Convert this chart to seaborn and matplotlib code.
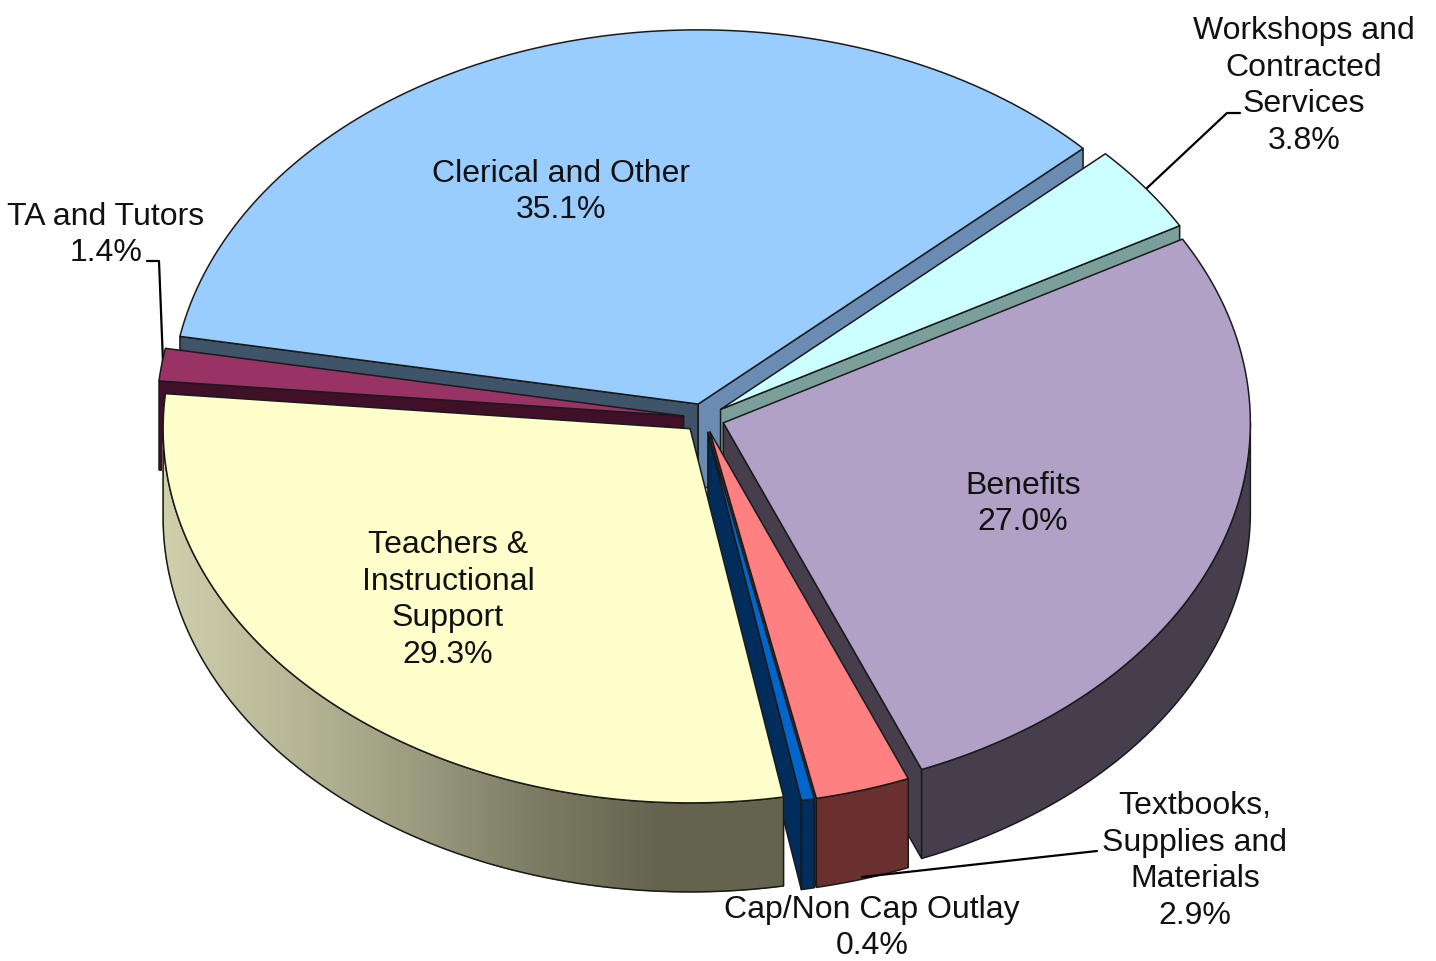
import numpy as np
import matplotlib.pyplot as plt
from matplotlib.patches import Polygon
import seaborn as sns

#chart data, clockwise from the Benefits slice
names = ['Benefits', 'Textbooks,\nSupplies and\nMaterials', 'Cap/Non Cap Outlay', 'Teachers &\nInstructional\nSupport',
         'TA and Tutors', 'Clerical and Other', 'Workshops and\nContracted\nServices']
values = [27.0, 2.9, 0.4, 29.3, 1.4, 35.1, 3.8]
top_colors = ['#b2a1c7', '#ff8080', '#0066cc', '#ffffcc', '#993366', '#99ccff', '#ccffff']
wall_colors = ['#463e4c', '#6a3030', '#002d5c', '#c8c8a2', '#3f1028', '#3f5468', '#7a9f9b']
label_x = [1023, 1195, 872, 448, 106, 561, 1304]
label_y = [504, 861, 928, 600, 235, 192, 86]

#painter's order, back of the pie first
draw_order = [5, 6, 0, 4, 1, 2, 3]

#pie geometry in pixels
center_x, center_y = 704, 418
radius = 527
squash = 0.71
depth = 89
explode = 20.5
start_angle = 29.4

sns.set_theme(style='white')
plt.rcParams['font.family'] = ['Liberation Sans', 'DejaVu Sans']

fig = plt.figure(figsize=(14.36, 9.61), dpi=100)
ax = fig.add_axes([0, 0, 1, 1])
ax.set_xlim(0, 1436)
ax.set_ylim(961, 0)
ax.axis('off')

#turn values into angles
sweep = np.array(values) / sum(values) * 360
ends = start_angle - np.cumsum(sweep)
starts = ends + sweep


def project(cx, cy, deg, drop=0):
    rad = np.radians(deg)
    return cx + radius * np.cos(rad), cy - radius * squash * np.sin(rad) + drop


def arc(cx, cy, a, b, drop=0, n=100):
    xs, ys = project(cx, cy, np.linspace(a, b, n), drop)
    return list(zip(xs, ys))


def face(points, color, z, edge='#1a1a1a'):
    ax.add_patch(Polygon(points, closed=True, facecolor=color, edgecolor=edge, linewidth=1.1,
                         joinstyle='round', zorder=z))


#walls for the teachers slice fade from light to dark going right
fade = sns.blend_palette(['#cfcfac', '#b8b898', '#9c9c80', '#7c7c64', '#64644e', '#64644e'], 400)

z = 2
for i in draw_order:
    a, b = starts[i], ends[i]
    mid = np.radians((a + b) / 2)
    cx = center_x + explode * np.cos(mid)
    cy = center_y - explode * squash * np.sin(mid)

    #side walls, only those facing the viewer
    end_wall = '#6a8cb2' if names[i] == 'Clerical and Other' else wall_colors[i]
    for edge_angle, normal, color in [(a, a + 90, wall_colors[i]), (b, b - 90, end_wall)]:
        if np.sin(np.radians(normal)) < 0:
            ex, ey = project(cx, cy, edge_angle)
            face([(cx, cy), (ex, ey), (ex, ey + depth), (cx, cy + depth)], color, z)
            z += 1

    #outer wall, front half of the ellipse only
    lo, hi = max(b, -180), min(a, 0)
    if lo < hi:
        outline = arc(cx, cy, hi, lo) + arc(cx, cy, lo, hi, depth)
        if names[i].startswith('Teachers'):
            cuts = np.linspace(lo, hi, 301)
            left = project(cx, cy, lo)[0]
            right = project(cx, cy, hi)[0]
            for c0, c1 in zip(cuts[:-1], cuts[1:]):
                t = (project(cx, cy, (c0 + c1) / 2)[0] - left) / (right - left)
                shade = fade[int(t * (len(fade) - 1))]
                strip = arc(cx, cy, c1, c0, n=3) + arc(cx, cy, c0, c1, depth, n=3)
                ax.add_patch(Polygon(strip, closed=True, facecolor=shade, edgecolor=shade,
                                     linewidth=0.8, zorder=z))
            z += 1
            face(outline, 'none', z)
        else:
            face(outline, wall_colors[i], z)
        z += 1

    #top of the slice
    face([(cx, cy)] + arc(cx, cy, a, b), top_colors[i], z)
    z += 1

#labels with their values
for name, val, x, y in zip(names, values, label_x, label_y):
    ax.text(x, y, f'{name}\n{val:.1f}%', ha='center', va='center', fontsize=23, color='#111111',
            linespacing=1.3, zorder=z + 1)

#leader lines
leaders = [([1147, 1227, 1240], [188, 113, 113]),
           ([147, 159, 163], [261, 261, 362]),
           ([862, 1097], [877, 851])]
for lx, ly in leaders:
    ax.plot(lx, ly, color='black', linewidth=1.6, zorder=1 if lx[0] == 147 else z)

fig.savefig('out.png', dpi=100, facecolor='white')
